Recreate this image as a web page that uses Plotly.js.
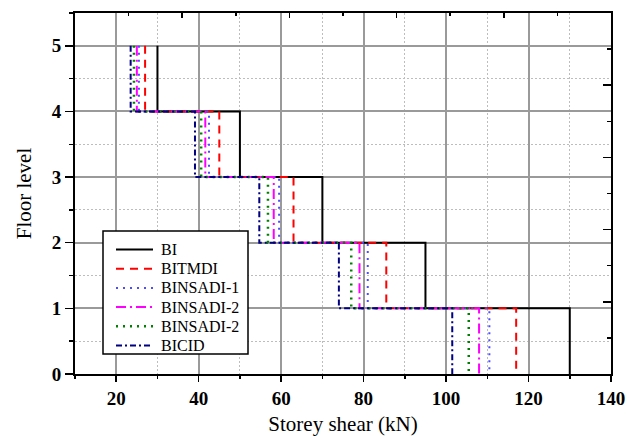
<!DOCTYPE html>
<html>
<head>
<meta charset="utf-8">
<script src="https://cdn.plot.ly/plotly-3.0.1.min.js"></script>
<style>html,body{margin:0;padding:0;background:#fff;}#chart{width:630px;height:436px;}</style>
</head>
<body>
<div id="chart"></div>
<script>
// Storey shear (kN) for storeys 1..5 (interval between floor i-1 and floor i)
const storeys = [1, 2, 3, 4, 5];
const seriesNames = ["BI", "BITMDI", "BINSADI-1", "BINSADI-2", "BINSADI-2", "BICID"];
const BI        = [130, 95, 70, 50, 30];
const BITMDI    = [117, 85.5, 63, 45, 27];
const BINSADI1  = [110.5, 81, 59.5, 42.5, 25.5];
const BINSADI2a = [108, 79, 58.2, 41.6, 25];
const BINSADI2b = [105.5, 77, 56.8, 40.6, 24.3];
const BICID     = [101.5, 74, 54.7, 39.1, 23.5];
const xTickVals = [20, 40, 60, 80, 100, 120, 140];
const yTickVals = [0, 1, 2, 3, 4, 5];

const seriesValues = [BI, BITMDI, BINSADI1, BINSADI2a, BINSADI2b, BICID];
const styles = [
  {color: "#000000", dash: "solid", width: 2},
  {color: "#ff0000", dash: "8px,6px", width: 2},
  {color: "#4d4dff", dash: "2px,5px", width: 2},
  {color: "#ff00ff", dash: "10px,4px,2px,4px", width: 2},
  {color: "#008000", dash: "2px,5px", width: 2.5},
  {color: "#000080", dash: "6px,3px,2px,3px", width: 2}
];

function stepPath(vals) {
  const xs = [], ys = [];
  for (let i = vals.length - 1; i >= 0; i--) {
    xs.push(vals[i]); ys.push(storeys[i]);
    xs.push(vals[i]); ys.push(storeys[i] - 1);
  }
  return {xs, ys};
}

const traces = seriesValues.map((vals, k) => {
  const p = stepPath(vals);
  return {
    x: p.xs, y: p.ys, type: "scatter", mode: "lines",
    name: seriesNames[k], showlegend: false,
    line: {color: styles[k].color, dash: styles[k].dash, width: styles[k].width},
    xaxis: "x", yaxis: "y"
  };
});
// invisible trace to activate mirror axes (top/right)
traces.push({x: [0], y: [0], xaxis: "x2", yaxis: "y2", mode: "markers",
  marker: {opacity: 0}, showlegend: false, hoverinfo: "skip"});

const serif = "Liberation Serif, Times New Roman, serif";

// custom legend (box, line samples, labels) in paper coordinates
const plotL = 75, plotT = 13, plotW = 536, plotH = 361;
const px = v => (v - plotL) / plotW;
const py = v => (plotT + plotH - v) / plotH;
const shapes = [{
  type: "rect", xref: "paper", yref: "paper", layer: "above",
  x0: px(103), x1: px(248), y0: py(354), y1: py(231),
  fillcolor: "#fff", line: {color: "#000", width: 1.5}
}];
const annotations = [];
seriesNames.forEach((name, k) => {
  const yy = py(249.5 + 19.2 * k);
  shapes.push({
    type: "line", xref: "paper", yref: "paper", layer: "above",
    x0: px(116), x1: px(153), y0: yy, y1: yy,
    line: {color: styles[k].color, dash: styles[k].dash, width: styles[k].width}
  });
  annotations.push({
    xref: "paper", yref: "paper", x: px(159), y: yy, xanchor: "left", yanchor: "middle",
    text: name, showarrow: false, font: {family: serif, size: 16, color: "#000"}
  });
});

const layout = {
  width: 630, height: 436,
  margin: {l: 75, r: 19, t: 13, b: 62},
  paper_bgcolor: "#fff", plot_bgcolor: "#fff",
  font: {family: serif, color: "#000"},
  showlegend: false,
  shapes: shapes, annotations: annotations,
  xaxis: {
    range: [10, 140], tickvals: xTickVals, ticks: "outside", ticklen: 6, tickwidth: 1.5,
    tickcolor: "#000", showline: true, linecolor: "#000", linewidth: 2, mirror: true,
    showgrid: true, gridcolor: "#9a9a9a", gridwidth: 2, zeroline: false,
    tickfont: {family: serif, size: 19, color: "#000", weight: "bold"},
    minor: {dtick: 10, tick0: 0, ticks: "outside", ticklen: 3, tickwidth: 1.5, tickcolor: "#000",
            showgrid: true, gridcolor: "#bdbdbd", griddash: "2px,2px", gridwidth: 1},
    title: {text: "Storey shear (kN)", font: {family: serif, size: 21, color: "#000"}, standoff: 10}
  },
  yaxis: {
    range: [0, 5.5], tickvals: yTickVals, ticks: "outside", ticklen: 8, tickwidth: 1.5,
    tickcolor: "#000", showline: true, linecolor: "#000", linewidth: 2, mirror: true,
    showgrid: true, gridcolor: "#9a9a9a", gridwidth: 2, zeroline: false,
    tickfont: {family: serif, size: 19, color: "#000", weight: "bold"},
    minor: {dtick: 0.5, tick0: 0, ticks: "outside", ticklen: 4, tickwidth: 1.5, tickcolor: "#000",
            showgrid: true, gridcolor: "#bdbdbd", griddash: "2px,2px", gridwidth: 1},
    title: {text: "Floor level", font: {family: serif, size: 21, color: "#000"}, standoff: 14}
  },
  xaxis2: {
    overlaying: "x", side: "top", anchor: "y2", range: [0, 5], dtick: 1, tick0: 0,
    ticks: "inside", ticklen: 5, tickwidth: 1.5, tickcolor: "#000",
    showticklabels: false, showgrid: false, zeroline: false, showline: false,
    minor: {dtick: 0.5, tick0: 0, ticks: "inside", ticklen: 3, tickwidth: 1.5, tickcolor: "#000", showgrid: false}
  },
  yaxis2: {
    overlaying: "y", side: "right", anchor: "x2", range: [0, 5], dtick: 1, tick0: 0,
    ticks: "inside", ticklen: 8, tickwidth: 1.5, tickcolor: "#000",
    showticklabels: false, showgrid: false, zeroline: false, showline: false,
    minor: {dtick: 0.5, tick0: 0, ticks: "inside", ticklen: 4, tickwidth: 1.5, tickcolor: "#000", showgrid: false}
  }
};

Plotly.newPlot("chart", traces, layout, {staticPlot: true, displayModeBar: false});
</script>
</body>
</html>
